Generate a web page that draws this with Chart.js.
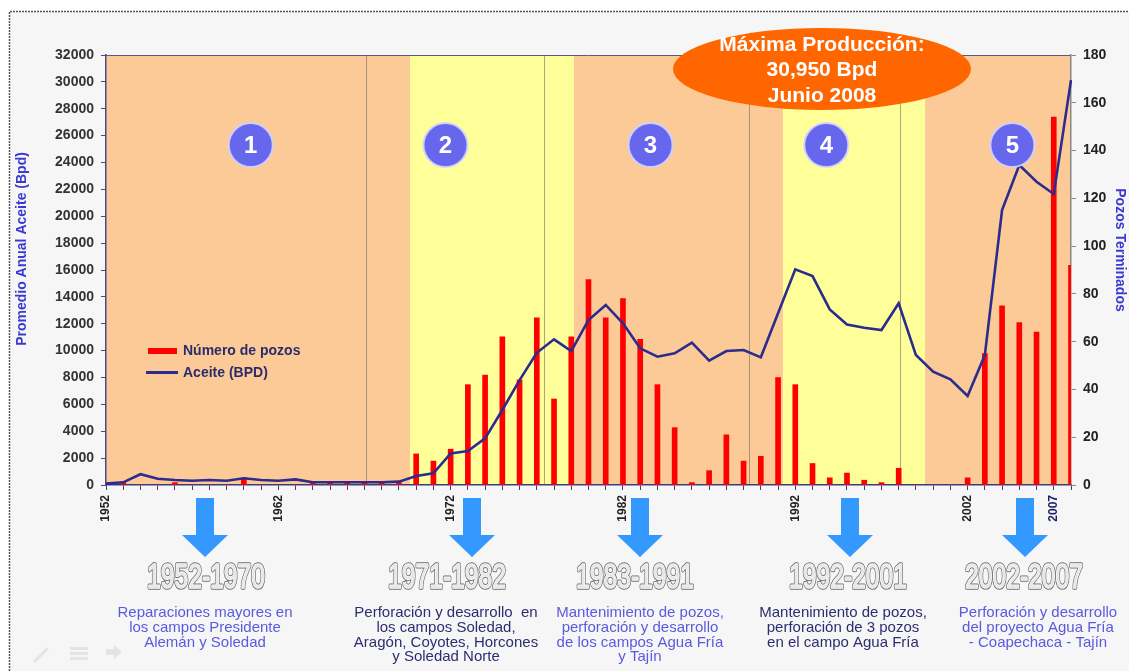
<!DOCTYPE html>
<html lang="es">
<head>
<meta charset="UTF-8">
<title>Producción de aceite y pozos terminados</title>
<style>
  html, body { margin: 0; padding: 0; background: #fff; }
  canvas { display: block; }
</style>
</head>
<body>
<canvas id="chart" width="1129" height="671"></canvas>
<script src="https://cdn.jsdelivr.net/npm/chart.js"></script>
<script>
// ---- data ----
const years = ['1952','1953','1954','1955','1956','1957','1958','1959','1960','1961',
  '1962','1963','1964','1965','1966','1967','1968','1969','1970','1971',
  '1972','1973','1974','1975','1976','1977','1978','1979','1980','1981',
  '1982','1983','1984','1985','1986','1987','1988','1989','1990','1991',
  '1992','1993','1994','1995','1996','1997','1998','1999','2000','2001',
  '2002','2003','2004','2005','2006','2007','2008'];

// Número de pozos (right axis)
const pozos = [0, 1, 0, 0, 1, 0, 0, 0, 3, 0,
  0, 0, 1, 1, 1, 1, 1, 1, 13, 10,
  15, 42, 46, 62, 44, 70, 36, 62, 86, 70,
  78, 61, 42, 24, 1, 6, 21, 10, 12, 45,
  42, 9, 3, 5, 2, 1, 7, 0, 0, 0,
  3, 55, 75, 68, 64, 154, 92];

// Aceite BPD (left axis)
const aceite = [100, 200, 800, 470, 370, 320, 370, 320, 500, 370,
  320, 420, 200, 200, 200, 200, 200, 250, 670, 870,
  2350, 2530, 3470, 5580, 7810, 9840, 10840, 9970, 12280, 13400,
  12030, 10170, 9550, 9800, 10590, 9250, 9970, 10050, 9500, 12780,
  16050, 15550, 13070, 11950, 11700, 11530, 13520, 9670, 8430, 7860,
  6620, 9670, 20460, 23810, 22570, 21650, 30130];

const xTickLabels = ['1952','1962','1972','1982','1992','2002','2007'];

// period bands (year boundaries) and separators
const bandEdges = [1952, 1969.64, 1979.16, 1991.29, 1999.53, 2008];
const separatorYears = [1967.1, 1977.4, 1989.3, 1998.1];
const stageNumbers = ['1', '2', '3', '4', '5'];
const stageYears = [1960.4, 1971.7, 1983.6, 1993.8, 2004.6];

const periods = ['1952-1970', '1971-1982', '1983-1991', '1992-2001', '2002-2007'];
const periodNotes = [
  ['Reparaciones mayores en', 'los campos Presidente', 'Alemán y Soledad'],
  ['Perforación y desarrollo  en', 'los campos Soledad,', 'Aragón, Coyotes, Horcones', 'y Soledad Norte'],
  ['Mantenimiento de pozos,', 'perforación y desarrollo', 'de los campos Agua Fría', 'y Tajín'],
  ['Mantenimiento de pozos,', 'perforación de 3 pozos', 'en el campo Agua Fría'],
  ['Perforación y desarrollo', 'del proyecto Agua Fría', '- Coapechaca - Tajín']
];
const maxLines = ['Máxima Producción:', '30,950 Bpd', 'Junio 2008'];

const FONT = '"Liberation Sans", Arial, sans-serif';
const W = 1129, H = 671;

const deco = {
  id: 'deco',
  beforeDraw(chart) {
    const {ctx, chartArea: a, scales: {x}} = chart;
    const px = yr => x.getPixelForValue(yr - 1952);
    ctx.save();
    ctx.fillStyle = '#ffffff';
    ctx.fillRect(0, 0, W, H);
    ctx.fillStyle = '#f6f6f6';
    ctx.fillRect(10, 12, W, H);
    ctx.strokeStyle = '#555';
    ctx.lineWidth = 1.5;
    ctx.setLineDash([2, 1]);
    ctx.beginPath();
    ctx.moveTo(9.5, H);
    ctx.lineTo(9.5, 11.5);
    ctx.lineTo(W, 11.5);
    ctx.stroke();
    ctx.setLineDash([]);

    // bands
    for (let i = 0; i < bandEdges.length - 1; i++) {
      ctx.fillStyle = i % 2 === 0 ? '#fcca97' : '#ffff99';
      const l = px(bandEdges[i]), r = px(bandEdges[i + 1]);
      ctx.fillRect(l, a.top, r - l, a.bottom - a.top);
    }
    ctx.strokeStyle = 'rgba(100,100,100,0.55)';
    ctx.lineWidth = 1;
    separatorYears.forEach(yr => {
      const xx = Math.round(px(yr)) + 0.5;
      ctx.beginPath();
      ctx.moveTo(xx, a.top);
      ctx.lineTo(xx, a.bottom);
      ctx.stroke();
    });
    // plot frame top
    ctx.strokeStyle = '#5a5a80';
    ctx.beginPath();
    ctx.moveTo(a.left, a.top + 0.5);
    ctx.lineTo(a.right, a.top + 0.5);
    ctx.stroke();
    ctx.restore();
  },
  afterDraw(chart) {
    const {ctx, chartArea: a, scales: {x, y}} = chart;
    const px = yr => x.getPixelForValue(yr - 1952);
    ctx.save();

    // numbered circles
    const cy = y.getPixelForValue(25300);
    stageYears.forEach((yr, i) => {
      const cx = px(yr);
      ctx.beginPath();
      ctx.arc(cx, cy, 22, 0, Math.PI * 2);
      ctx.fillStyle = '#6767ee';
      ctx.fill();
      ctx.lineWidth = 2;
      ctx.strokeStyle = 'rgba(210,210,255,0.9)';
      ctx.stroke();
      ctx.fillStyle = '#fff';
      ctx.font = 'bold 24px ' + FONT;
      ctx.textAlign = 'center';
      ctx.textBaseline = 'middle';
      ctx.fillText(stageNumbers[i], cx, cy + 1);
    });

    // max production ellipse
    ctx.beginPath();
    ctx.ellipse(822, 69, 149, 41, 0, 0, Math.PI * 2);
    ctx.fillStyle = '#ff6600';
    ctx.fill();
    ctx.fillStyle = '#fff';
    ctx.font = 'bold 21px ' + FONT;
    ctx.textAlign = 'center';
    ctx.textBaseline = 'middle';
    maxLines.forEach((t, i) => ctx.fillText(t, 822, 45 + i * 25.5));

    // legend inside plot
    const ds = chart.data.datasets;
    const bar = ds.find(d => d.type === 'bar');
    const line = ds.find(d => d.type === 'line');
    ctx.fillStyle = bar.backgroundColor;
    ctx.fillRect(148, 348, 29, 6);
    ctx.strokeStyle = line.borderColor;
    ctx.lineWidth = 3;
    ctx.beginPath();
    ctx.moveTo(146, 372.5);
    ctx.lineTo(178, 372.5);
    ctx.stroke();
    ctx.fillStyle = '#2b2b6e';
    ctx.font = 'bold 14px ' + FONT;
    ctx.textAlign = 'left';
    ctx.fillText(bar.label, 183, 351);
    ctx.fillText(line.label, 183, 373);

    // axis titles
    ctx.fillStyle = '#3a3ad2';
    ctx.font = 'bold 14px ' + FONT;
    ctx.textAlign = 'center';
    ctx.save();
    ctx.translate(22, 249);
    ctx.rotate(-Math.PI / 2);
    ctx.fillText('Promedio Anual Aceite (Bpd)', 0, 0);
    ctx.restore();
    ctx.save();
    ctx.translate(1120, 250);
    ctx.rotate(Math.PI / 2);
    ctx.fillText('Pozos Terminados', 0, 0);
    ctx.restore();

    // arrows, period titles, notes
    const arrowX = [205, 472, 640, 850, 1025];
    const periodX = [206, 447, 635, 848, 1024];
    const noteX = [205, 446, 640, 843, 1038];
    const noteColors = ['#5a5ade', '#2d2d72', '#5a5ade', '#2d2d72', '#5a5ade'];
    arrowX.forEach(ax => {
      ctx.fillStyle = '#3399ff';
      ctx.beginPath();
      ctx.moveTo(ax - 9, 498);
      ctx.lineTo(ax + 9, 498);
      ctx.lineTo(ax + 9, 535);
      ctx.lineTo(ax + 23, 535);
      ctx.lineTo(ax, 557);
      ctx.lineTo(ax - 23, 535);
      ctx.lineTo(ax - 9, 535);
      ctx.closePath();
      ctx.fill();
    });
    periods.forEach((p, i) => {
      ctx.save();
      ctx.font = '35px ' + FONT;
      const w = ctx.measureText(p).width;
      ctx.translate(periodX[i], 578);
      ctx.scale(118 / w, 1);
      ctx.textAlign = 'center';
      ctx.textBaseline = 'middle';
      ctx.lineJoin = 'round';
      ctx.strokeStyle = '#6e6e6e';
      ctx.lineWidth = 3.5;
      ctx.strokeText(p, 0, 0);
      ctx.strokeStyle = '#ffffff';
      ctx.lineWidth = 1.5;
      ctx.strokeText(p, 0, 0);
      ctx.fillStyle = '#e8e8e8';
      ctx.fillText(p, 0, 0);
      ctx.restore();
    });
    ctx.font = '15px ' + FONT;
    ctx.textAlign = 'center';
    ctx.textBaseline = 'middle';
    periodNotes.forEach((lines, i) => {
      ctx.fillStyle = noteColors[i];
      lines.forEach((t, j) => ctx.fillText(t, noteX[i], 613 + j * 14.7));
    });

    // faint slide icons
    ctx.strokeStyle = '#e4e4e4';
    ctx.fillStyle = '#e4e4e4';
    ctx.lineWidth = 3;
    ctx.beginPath();
    ctx.moveTo(34, 662);
    ctx.lineTo(48, 648);
    ctx.stroke();
    ctx.fillRect(70, 647, 18, 3);
    ctx.fillRect(70, 652, 18, 3);
    ctx.fillRect(70, 657, 18, 3);
    ctx.beginPath();
    ctx.moveTo(106, 649);
    ctx.lineTo(114, 649);
    ctx.lineTo(114, 645);
    ctx.lineTo(122, 652);
    ctx.lineTo(114, 659);
    ctx.lineTo(114, 655);
    ctx.lineTo(106, 655);
    ctx.closePath();
    ctx.fill();
    ctx.restore();
  }
};

const tickFont = {family: FONT, size: 14, weight: 'bold'};

new Chart(document.getElementById('chart'), {
  type: 'bar',
  data: {
    labels: years,
    datasets: [
      {
        type: 'line',
        label: 'Aceite (BPD)',
        data: aceite,
        yAxisID: 'y',
        borderColor: '#2c2b8e',
        borderWidth: 2.6,
        pointRadius: 0,
        tension: 0,
        order: 1
      },
      {
        type: 'bar',
        label: 'Número de pozos',
        data: pozos,
        yAxisID: 'y1',
        backgroundColor: '#ff0000',
        barThickness: 5,
        order: 2
      }
    ]
  },
  options: {
    responsive: false,
    animation: false,
    devicePixelRatio: 1,
    layout: {padding: {left: 10, top: 55, right: 0, bottom: 0}},
    plugins: {legend: {display: false}, tooltip: {enabled: false}},
    scales: {
      x: {
        type: 'category',
        offset: false,
        grid: {offset: false, drawOnChartArea: false, drawTicks: true, tickLength: 5, color: '#3c3c7a'},
        border: {color: '#3c3c7a', width: 1.5},
        ticks: {
          autoSkip: false,
          maxRotation: 90,
          minRotation: 90,
          padding: 5,
          font: {family: FONT, size: 12, weight: 'bold'},
          color: ctx => (years[ctx.index] === '2007' ? '#1c1c6a' : '#222'),
          callback: (v, i) => (xTickLabels.includes(years[i]) ? years[i] : '')
        },
        afterFit: s => { s.height = H - 485; }
      },
      y: {
        position: 'left',
        min: 0,
        max: 32000,
        grid: {drawOnChartArea: false, drawTicks: true, tickLength: 5, color: '#4b4b8c'},
        border: {color: '#4b4b8c', width: 1.5},
        ticks: {stepSize: 2000, padding: 7, font: tickFont, color: '#333', callback: v => String(v)},
        afterFit: s => { s.width = 96; }
      },
      y1: {
        position: 'right',
        min: 0,
        max: 180,
        grid: {drawOnChartArea: false, drawTicks: true, tickLength: 5, color: '#888'},
        border: {color: '#888', width: 1.5},
        ticks: {stepSize: 20, padding: 7, font: tickFont, color: '#222'},
        afterFit: s => { s.width = 58; }
      }
    }
  },
  plugins: [deco]
});
</script>
</body>
</html>
